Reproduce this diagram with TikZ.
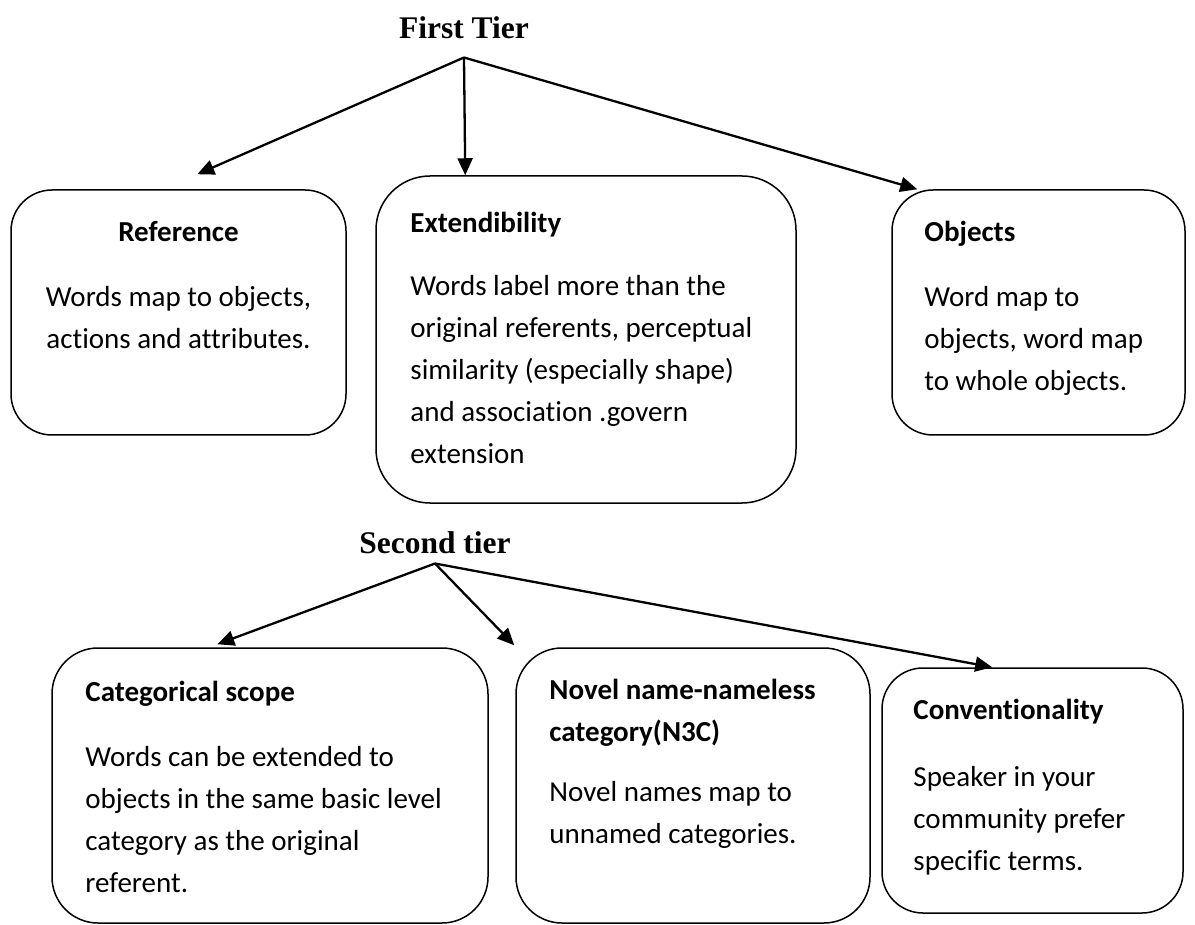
\documentclass[tikz,border=0pt]{standalone}
\usepackage{fontspec}
\setmainfont[Ligatures=NoCommon]{Carlito}
\newfontfamily\tierfont{Liberation Serif}
\usetikzlibrary{positioning,arrows.meta}

\begin{document}
\begin{tikzpicture}[x=1pt,y=-1pt,
    box/.style={draw,line width=1.5pt,inner sep=0pt},
    txt/.style={inner sep=0pt,align=left,font=\fontsize{29}{42}\selectfont},
    tier/.style={inner sep=0pt,font=\tierfont\bfseries\fontsize{31.5}{36}\selectfont},
    arr/.style={line width=2.3pt,-{Triangle[length=17pt,width=15pt]}}]
    \useasboundingbox (0,0) rectangle (1195,925);

    % First tier boxes
    \node[box,rounded corners=41pt,minimum width=335pt,minimum height=245pt] (ref) at (178.5,312.5) {};
    \node[box,rounded corners=54pt,minimum width=420pt,minimum height=327pt] (ext) at (586,339.5) {};
    \node[box,rounded corners=41pt,minimum width=293pt,minimum height=245pt] (obj) at (1038.5,312.5) {};

    \node[txt,align=center,below=32pt of ref.north] (reftxt)
        {\textbf{Reference}\\[23pt]Words map to objects,\\actions and attributes.};
    \node[txt,below right=37pt and 35pt of ext.north west] (exttxt)
        {\textbf{Extendibility}\\[21pt]Words label more than the\\original referents, perceptual\\similarity (especially shape)\\and association .govern\\extension};
    \node[txt,below right=32pt and 33pt of obj.north west] (objtxt)
        {\textbf{Objects}\\[23pt]Word map to\\objects, word map\\to whole objects.};

    % Second tier boxes
    \node[box,rounded corners=46pt,minimum width=436pt,minimum height=275pt] (cat) at (270,785.5) {};
    \node[box,rounded corners=46pt,minimum width=354pt,minimum height=275pt] (nov) at (693,785.5) {};
    \node[box,rounded corners=41pt,minimum width=301pt,minimum height=245pt] (con) at (1032.5,790.5) {};

    \node[txt,below right=34pt and 34pt of cat.north west] (cattxt)
        {\textbf{Categorical scope}\\[23pt]Words can be extended to\\objects in the same basic level\\category as the original\\referent.};
    \node[txt,below right=32pt and 34pt of nov.north west] (novtxt)
        {\textbf{Novel name-nameless}\\\textbf{category(N3C)}\\[18pt]Novel names map to\\unnamed categories.};
    \node[txt,below right=32pt and 32pt of con.north west] (contxt)
        {\textbf{Conventionality}\\[25pt]Speaker in your\\community prefer\\specific terms.};

    % Tier labels and arrows
    \node[tier,anchor=base] (tier1) at (464,39) {First Tier};
    \node[tier,anchor=base] (tier2) at (435,553) {Second tier};
    \coordinate[below=18pt of tier1] (o1);
    \coordinate[below=10pt of tier2] (o2);

    \coordinate[above right=15pt and 187pt of ref.north west] (t1);
    \coordinate[right=90pt of ext.north west] (t2);
    \coordinate[right=26pt of obj.north west] (t3);
    \coordinate[above right=3pt and 166pt of cat.north west] (s1);
    \coordinate[above left=2pt and 1pt of nov.north west] (s2);
    \coordinate[right=111pt of con.north west] (s3);

    \foreach \t in {t1,t2,t3} {
        \draw[arr] (o1) -- (\t);
    }
    \foreach \s in {s1,s2,s3} {
        \draw[arr] (o2) -- (\s);
    }

\end{tikzpicture}
\end{document}
